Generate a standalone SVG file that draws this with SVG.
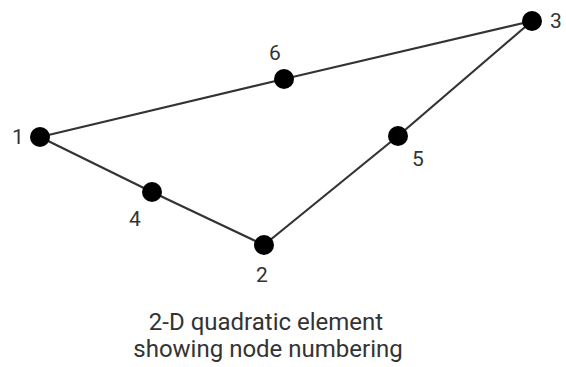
<svg xmlns="http://www.w3.org/2000/svg" width="566" height="367" viewBox="0 0 566 367">
<style>
.edge{stroke:#333;stroke-width:2.2;fill:none}
.node{fill:#000}
.lbl{font-family:Roboto,"Liberation Sans",Arial,sans-serif;font-size:21px;fill:#333}
.cap{font-family:Roboto,"Liberation Sans",Arial,sans-serif;font-size:24px;fill:#333;text-anchor:middle}
</style>
<rect width="566" height="367" fill="#fff"/>
<g id="connectors">
<line class="edge" x1="40" y1="137" x2="152" y2="192"/>
<line class="edge" x1="152" y1="192" x2="264" y2="245"/>
<line class="edge" x1="264" y1="245" x2="398" y2="136"/>
<line class="edge" x1="398" y1="136" x2="532" y2="21"/>
<line class="edge" x1="532" y1="21" x2="284" y2="79"/>
<line class="edge" x1="284" y1="79" x2="40" y2="137"/>
</g>
<g id="node1"><circle class="node" cx="40" cy="137" r="10"/><text class="lbl" x="12" y="144">1</text></g>
<g id="node2"><circle class="node" cx="264" cy="245" r="10"/><text class="lbl" x="256" y="282">2</text></g>
<g id="node3"><circle class="node" cx="532" cy="21" r="10"/><text class="lbl" x="550" y="28">3</text></g>
<g id="node4"><circle class="node" cx="152" cy="192" r="10"/><text class="lbl" x="129" y="226">4</text></g>
<g id="node5"><circle class="node" cx="398" cy="136" r="10"/><text class="lbl" x="412" y="166">5</text></g>
<g id="node6"><circle class="node" cx="284" cy="79" r="10"/><text class="lbl" x="269" y="60">6</text></g>
<g id="caption">
<text class="cap" x="266" y="330">2-D quadratic element</text>
<text class="cap" x="268" y="357">showing node numbering</text>
</g>
</svg>
